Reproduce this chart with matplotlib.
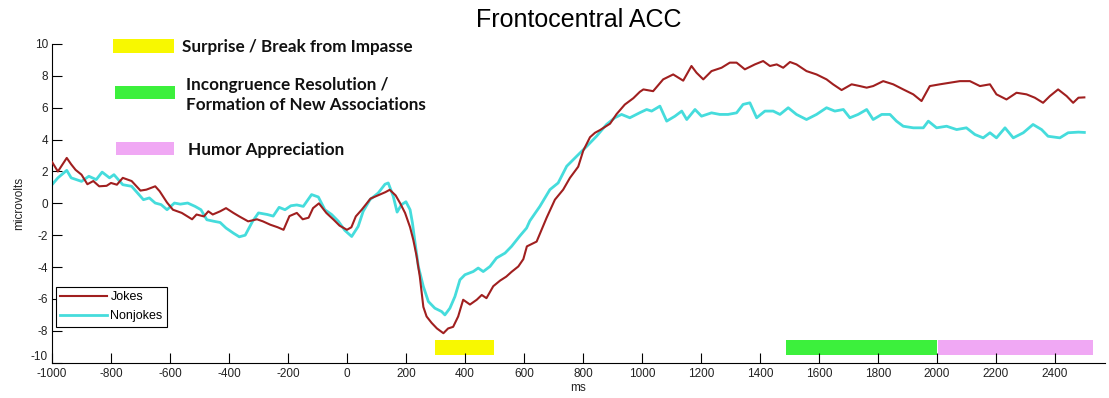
import matplotlib.pyplot as plt
from matplotlib.patches import Rectangle

plt.rcParams['font.family'] = ['Liberation Sans', 'DejaVu Sans']
plt.rcParams['axes.unicode_minus'] = False

# ERP data (ms, microvolts)
jokes_ms = [-1000, -980, -950, -935, -920, -900, -880, -860, -840, -815, -800, -780, -760, -730,
            -700, -680, -650, -635, -610, -590, -560, -525, -510, -485, -470, -455, -430, -410,
            -385, -365, -335, -305, -285, -260, -235, -215, -195, -170, -150, -130, -115, -95,
            -70, -45, -25, 0, 15, 30, 50, 80, 105, 130, 145, 165, 180, 197, 214, 225, 236, 247,
            259, 270, 287, 305, 327, 343, 360, 377, 394, 417, 440, 457, 473, 496, 519, 540, 558,
            581, 598, 610, 643, 677, 705, 733, 756, 784, 801, 824, 841, 858, 892, 914, 942, 971,
            993, 1005, 1038, 1072, 1106, 1140, 1168, 1185, 1208, 1236, 1270, 1298, 1321, 1349,
            1383, 1411, 1434, 1457, 1479, 1502, 1524, 1558, 1592, 1626, 1648, 1677, 1711, 1739,
            1762, 1784, 1818, 1852, 1886, 1920, 1948, 1976, 2010, 2044, 2078, 2112, 2146, 2180,
            2202, 2236, 2270, 2304, 2332, 2360, 2383, 2411, 2440, 2462, 2480, 2500]
jokes_uv = [2.6, 2.0, 2.85, 2.45, 2.1, 1.8, 1.2, 1.4, 1.07, 1.1, 1.28, 1.17, 1.6, 1.4,
            0.8, 0.86, 1.07, 0.76, 0.05, -0.4, -0.6, -1.0, -0.7, -0.82, -0.5, -0.7, -0.5, -0.3,
            -0.6, -0.82, -1.13, -1.0, -1.13, -1.34, -1.5, -1.66, -0.8, -0.6, -1.0, -0.9, -0.3, 0.0,
            -0.6, -1.03, -1.4, -1.66, -1.5, -0.82, -0.4, 0.3, 0.5, 0.7, 0.85, 0.5, 0.02, -0.6,
            -1.5, -2.3, -3.3, -4.6, -6.5, -7.1, -7.5, -7.85, -8.15, -7.85, -7.75, -7.1, -6.05,
            -6.35, -6.05, -5.75, -5.95, -5.2, -4.85, -4.6, -4.3, -3.96, -3.5, -2.7, -2.4, -0.9,
            0.23, 0.86, 1.6, 2.3, 3.3, 4.15, 4.43, 4.6, 5.0, 5.6, 6.2, 6.6, 7.0, 7.15, 7.04,
            7.78, 8.09, 7.7, 8.62, 8.2, 7.78, 8.3, 8.51, 8.83, 8.83, 8.41, 8.72, 8.93, 8.62,
            8.72, 8.51, 8.87, 8.72, 8.3, 8.09, 7.78, 7.47, 7.11, 7.47, 7.36, 7.26, 7.36, 7.67,
            7.47, 7.15, 6.84, 6.42, 7.36, 7.47, 7.57, 7.67, 7.67, 7.36, 7.47, 6.84, 6.52, 6.94,
            6.84, 6.63, 6.31, 6.73, 7.15, 6.73, 6.31, 6.63, 6.65]

nonjokes_ms = [-1000, -980, -950, -935, -900, -875, -850, -830, -805, -790, -760, -730, -710,
               -690, -670, -650, -630, -610, -585, -565, -540, -515, -495, -475, -450, -430,
               -410, -385, -365, -345, -320, -300, -270, -250, -230, -210, -190, -170, -148,
               -120, -97, -75, -52, -29, -7, 16, 38, 55, 78, 106, 129, 140, 157, 170, 185, 200,
               214, 222, 231, 242, 259, 276, 298, 321, 332, 349, 366, 383, 400, 428, 445, 462,
               485, 507, 536, 558, 586, 609, 620, 654, 688, 716, 745, 779, 813, 846, 880, 908,
               931, 959, 993, 1016, 1033, 1061, 1084, 1112, 1135, 1152, 1180, 1202, 1236, 1264,
               1292, 1321, 1343, 1366, 1389, 1417, 1445, 1468, 1496, 1524, 1558, 1592, 1626,
               1654, 1683, 1705, 1733, 1762, 1784, 1813, 1841, 1863, 1886, 1920, 1954, 1971,
               1999, 2033, 2067, 2100, 2129, 2157, 2180, 2202, 2231, 2259, 2293, 2326, 2355,
               2377, 2417, 2445, 2480, 2500]
nonjokes_uv = [1.17, 1.6, 2.07, 1.6, 1.38, 1.7, 1.49, 1.96, 1.6, 1.8, 1.17, 1.07, 0.65,
               0.23, 0.34, 0.02, -0.08, -0.4, 0.02, -0.05, 0.02, -0.19, -0.4, -1.03, -1.13, -1.2,
               -1.55, -1.87, -2.1, -2.0, -1.13, -0.6, -0.7, -0.8, -0.25, -0.4, -0.15, -0.1, -0.19,
               0.55, 0.4, -0.4, -0.7, -1.13, -1.7, -2.08, -1.45, -0.5, 0.23, 0.65, 1.2, 1.28, 0.44,
               -0.55, -0.08, 0.1, -0.4, -1.23, -2.49, -3.96, -5.22, -6.16, -6.58, -6.79, -7.0,
               -6.58, -5.85, -4.8, -4.48, -4.28, -4.06, -4.28, -3.96, -3.43, -3.12, -2.7, -2.05,
               -1.55, -1.1, -0.19, 0.86, 1.28, 2.33, 2.96, 3.58, 4.21, 4.95, 5.37, 5.58, 5.37,
               5.69, 5.89, 5.79, 6.1, 5.16, 5.47, 5.79, 5.26, 5.89, 5.47, 5.68, 5.58, 5.58, 5.68,
               6.21, 6.31, 5.37, 5.79, 5.79, 5.58, 6.0, 5.58, 5.26, 5.58, 6.0, 5.79, 5.89, 5.37,
               5.58, 5.89, 5.26, 5.58, 5.58, 5.16, 4.84, 4.74, 4.74, 5.16, 4.74, 4.84, 4.63, 4.74,
               4.32, 4.11, 4.43, 4.11, 4.74, 4.11, 4.43, 4.95, 4.63, 4.21, 4.11, 4.43, 4.47, 4.45]

# time windows of the processing stages (ms)
stage_names = ["Surprise / Break from Impasse",
               "Incongruence Resolution /\nFormation of New Associations",
               "Humor Appreciation"]
stage_start = [300, 1490, 2005]
stage_end = [500, 2000, 2530]
stage_colors = ['#f8f800', '#3cf03c', '#f0a8f4']

W, H = 1109, 398
fig = plt.figure(figsize=(W / 100, H / 100), dpi=100)
ax = fig.add_axes([52 / W, 1 - 362.7 / H, 1053 / W, (362.7 - 44) / H])

ax.plot(nonjokes_ms, nonjokes_uv, color='#45dcdc', lw=2.0, label='Nonjokes', zorder=2)
ax.plot(jokes_ms, jokes_uv, color='#a01f1f', lw=1.5, label='Jokes', zorder=3)

# stage bars just above the x axis
for s, e, c in zip(stage_start, stage_end, stage_colors):
    ax.fill_between([s, e], -9.53, -8.6, color=c, lw=0, zorder=1)

ax.set_xlim(-1000, 2570)
ax.set_ylim(-10, 10)
ax.set_xticks(range(-1000, 2401, 200))
ax.set_yticks(range(-10, 11, 2))
ax.spines['top'].set_visible(False)
ax.spines['right'].set_visible(False)
ax.tick_params(direction='in', length=7.5, width=0.8, labelsize=8.5, labelcolor='#222222')
ax.tick_params(axis='x', pad=4)
ax.tick_params(axis='y', pad=3)
# the -10 label sits just above the -1000 label, as in the original
ax.get_yticklabels()[0].set_verticalalignment('bottom')
ax.set_xlabel('ms', fontsize=8.5, labelpad=1, color='#222222')
ax.set_ylabel('microvolts', fontsize=8.5, labelpad=4, color='#222222')
ax.set_title('Frontocentral ACC', fontsize=18, pad=12)

h, l = ax.get_legend_handles_labels()
leg = ax.legend(h[::-1], l[::-1], loc='upper left', bbox_to_anchor=(56 / W, 1 - 287 / H),
                bbox_transform=fig.transFigure, fontsize=9, frameon=True, fancybox=False,
                edgecolor='black', framealpha=1, borderaxespad=0, borderpad=0.35,
                handlelength=3.7, handletextpad=0.3, labelspacing=0.55)
leg.get_frame().set_linewidth(0.8)

# stage key at the top left
key_boxes = [(113, 39, 61, 14), (115, 86, 60, 13), (116, 142, 58, 13)]
key_text = [(182, 47), (186, 95), (188, 150)]
for (x, y, w, hh), (tx, ty), c, name in zip(key_boxes, key_text, stage_colors, stage_names):
    fig.patches.append(Rectangle((x / W, 1 - (y + hh) / H), w / W, hh / H,
                                 transform=fig.transFigure, color=c, lw=0))
    fig.text(tx / W, 1 - ty / H, name, family=['Lato', 'DejaVu Sans'], weight='bold',
             fontsize=12.3, va='center', ha='left', linespacing=1.35, color='#111111')

fig.savefig('out.png', dpi=100)
